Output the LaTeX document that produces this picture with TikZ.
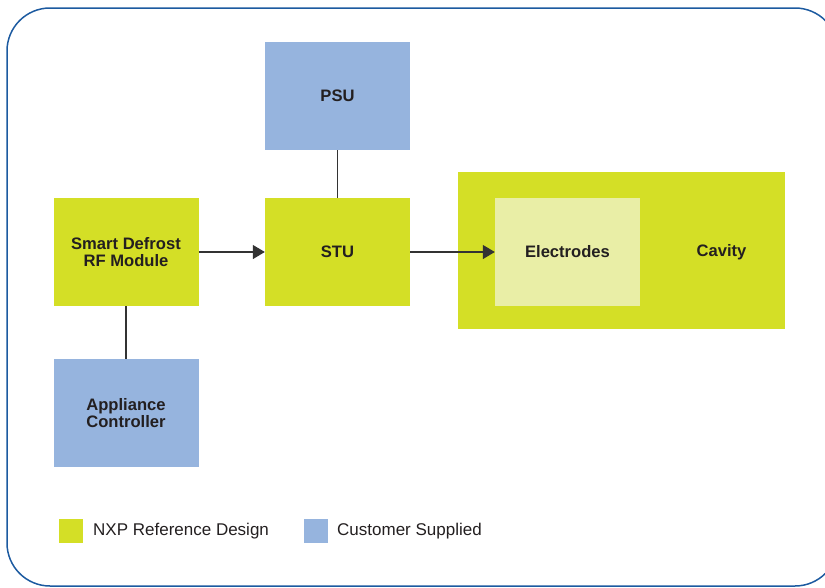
\documentclass[tikz,border=0pt]{standalone}
\usepackage{fontspec}
\setmainfont{Liberation Sans}
\usetikzlibrary{arrows.meta}
\definecolor{nxpgreen}{HTML}{D4DF26}
\definecolor{lightgreen}{HTML}{E9EEA6}
\definecolor{custblue}{HTML}{96B4DE}
\definecolor{framebl}{HTML}{1C5AA0}
\definecolor{txt}{HTML}{231F20}
\definecolor{conn}{HTML}{333333}
\tikzset{
  blockbox/.style={rectangle, inner sep=0pt, minimum width=145pt, minimum height=108pt,
    align=center, text=txt, font=\fontsize{16.6}{17.7}\selectfont\bfseries},
  nxp/.style={blockbox, fill=nxpgreen},
  cust/.style={blockbox, fill=custblue},
  wire/.style={draw=conn, line width=1.3pt},
  arrowwire/.style={wire, -{Triangle[length=12pt,width=14pt]}},
  legsq/.style={rectangle, inner sep=0pt, minimum size=24pt, anchor=north west},
  legtxt/.style={anchor=west, text=txt, font=\fontsize{17}{18}\selectfont, inner sep=0pt}
}
\begin{document}
\begin{tikzpicture}[x=1pt,y=-1pt]
\useasboundingbox (0,0) rectangle (825,587);
\clip (0,0) rectangle (825,587);
\draw[framebl, line width=1.5pt, rounded corners=43pt] (7,8) rectangle (838,586);

\node[cust] (psu) at (337.5,96) {PSU};
\node[nxp] (rf) at (126,252) {Smart Defrost\\RF Module};
\node[nxp] (stu) at (337.5,252) {STU};
\node[cust] (app) at (126,413) {Appliance\\Controller};
\node[nxp, minimum width=327pt, minimum height=157pt] (cav) at (621.5,250.5) {};
\node[blockbox, fill=lightgreen] (elec) at (567.5,252) {Electrodes};
\node[text=txt, font=\fontsize{16.6}{17.7}\selectfont\bfseries, inner sep=0pt] (cavlbl) at (721.5,252) {Cavity};

\draw[wire] (psu) -- (stu);
\draw[wire] (rf) -- (app);
\draw[arrowwire] (rf) -- (stu);
\draw[arrowwire] (stu) -- (elec);

\node[legsq, fill=nxpgreen] (lg1) at (59,519) {};
\node[legtxt] (lt1) at (93,531) {NXP Reference Design};
\node[legsq, fill=custblue] (lg2) at (304,519) {};
\node[legtxt] (lt2) at (337,531) {Customer Supplied};
\end{tikzpicture}
\end{document}
